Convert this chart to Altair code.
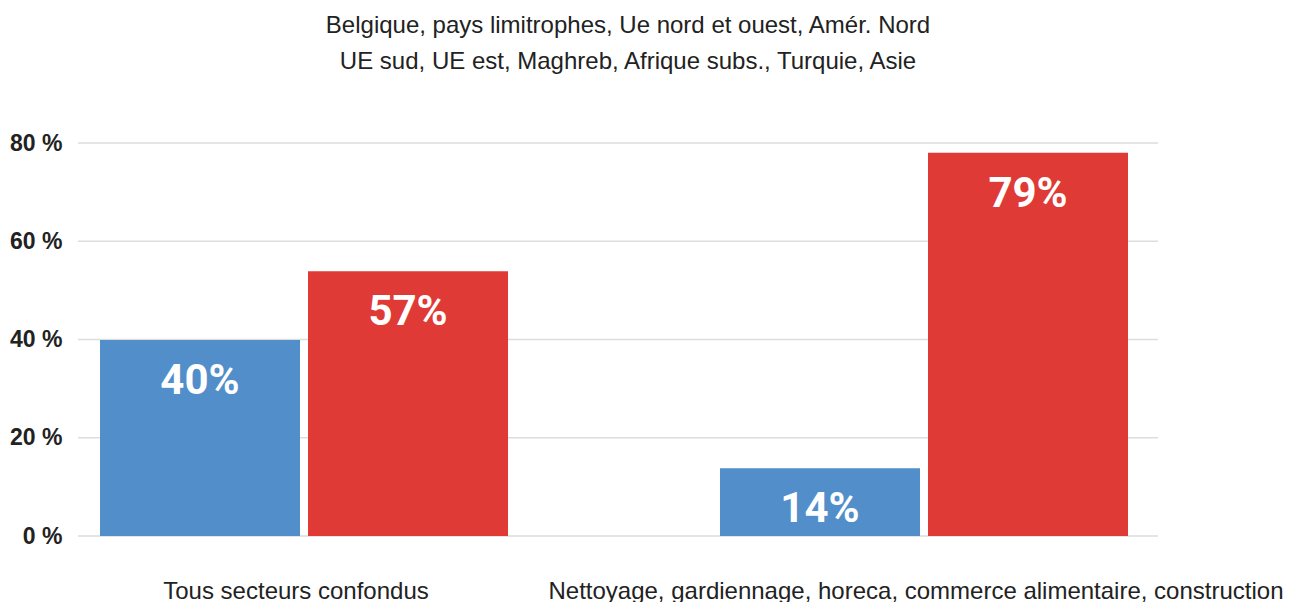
import altair as alt
import pandas as pd

groups = ["Tous secteurs confondus",
          "Nettoyage, gardiennage, horeca, commerce alimentaire, construction"]
series = ["Belgique, pays limitrophes, Ue nord et ouest, Amér. Nord",
          "UE sud, UE est, Maghreb, Afrique subs., Turquie, Asie"]
values_s1 = [39.9, 13.8]
values_s2 = [53.9, 78.0]
labels_s1 = ["40%", "14%"]
labels_s2 = ["57%", "79%"]
y_ticks = [0, 20, 40, 60, 80]
colors = ["#518ECA", "#DF3A35"]

rows = []
for g, v, l in zip(groups, values_s1, labels_s1):
    rows.append({"groupe": g, "serie": series[0], "valeur": v, "label": l})
for g, v, l in zip(groups, values_s2, labels_s2):
    rows.append({"groupe": g, "serie": series[1], "valeur": v, "label": l})
df = pd.DataFrame(rows)
grid_df = pd.DataFrame({"valeur": y_ticks})

x = alt.X("groupe:N", sort=groups,
          scale=alt.Scale(range=[18, 1054], paddingInner=0.329, paddingOuter=0),
          axis=alt.Axis(title=None, labelAngle=0, labelFontSize=24,
                        labelFont="Liberation Sans", labelColor="#222222",
                        labelPadding=43, labelOffset=-8, ticks=False, domain=False,
                        grid=False, labelOverlap=False, labelLimit=2000))
xoff = alt.XOffset("serie:N", sort=series,
                   scale=alt.Scale(paddingInner=0.03846, paddingOuter=0.0192))
y = alt.Y("valeur:Q", scale=alt.Scale(domain=[0, 80]),
          axis=alt.Axis(title=None, values=y_ticks,
                        labelExpr="datum.value + ' %'",
                        labelFontSize=23, labelFontWeight="bold",
                        labelFont="Liberation Sans", labelColor="#222222",
                        labelPadding=16, ticks=False, domain=False, grid=False))
color = alt.Color("serie:N", sort=series,
                  scale=alt.Scale(domain=series, range=colors), legend=None)

grid = alt.Chart(grid_df).mark_rule(color="#dddddd", strokeWidth=1.5).encode(
    y=y, x=alt.value(0), x2=alt.value(1080))
bars = alt.Chart(df).mark_bar().encode(x=x, xOffset=xoff, y=y, color=color)
texts = alt.Chart(df).mark_text(
    baseline="alphabetic", dy=54, fontSize=42, fontWeight="bold",
    font="Roboto", color="white"
).encode(x=x, xOffset=xoff, y=y, text="label:N")

chart = alt.layer(grid, bars, texts).properties(
    width=1080, height=393,
    autosize=alt.AutoSizeParams(type="none"),
    padding={"left": 70, "top": 135, "right": 125, "bottom": 66},
    title=alt.Title(text=series, fontSize=24, font="Liberation Sans",
                    fontWeight="normal", color="#222222", lineHeight=36,
                    anchor="middle", dx=10, offset=58),
).configure_view(stroke=None)

chart.save("out.html", embed_options={"renderer": "svg", "actions": False})
